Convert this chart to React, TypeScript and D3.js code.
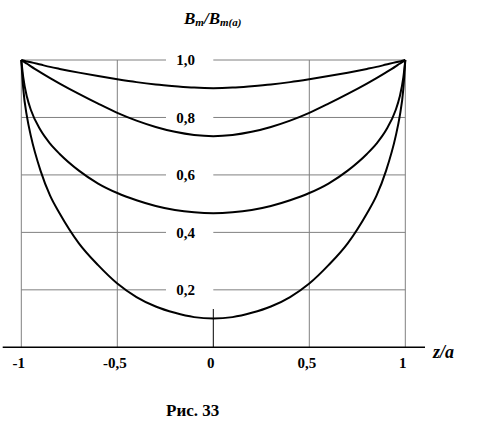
import React from "react";
import * as d3 from "d3";

const zs = [-1, -0.99, -0.97, -0.95, -0.9, -0.85, -0.8, -0.7, -0.6, -0.5, -0.4, -0.3, -0.2, -0.1, 0,
  0.1, 0.2, 0.3, 0.4, 0.5, 0.6, 0.7, 0.8, 0.85, 0.9, 0.95, 0.97, 0.99, 1];

const curve1 = [1.0, 0.998, 0.995, 0.992, 0.984, 0.976, 0.969, 0.956, 0.944, 0.933, 0.923, 0.915, 0.909, 0.904, 0.902,
  0.904, 0.909, 0.915, 0.923, 0.933, 0.944, 0.956, 0.969, 0.976, 0.984, 0.992, 0.995, 0.998, 1.0];
const curve2 = [1.0, 0.9955, 0.987, 0.978, 0.957, 0.937, 0.918, 0.882, 0.848, 0.816, 0.789, 0.767, 0.75, 0.739, 0.735,
  0.739, 0.75, 0.767, 0.789, 0.816, 0.848, 0.882, 0.918, 0.937, 0.957, 0.978, 0.987, 0.9955, 1.0];
const curve3 = [1.0, 0.94, 0.87, 0.826, 0.756, 0.709, 0.673, 0.615, 0.57, 0.537, 0.512, 0.492, 0.478, 0.47, 0.467,
  0.47, 0.478, 0.492, 0.512, 0.537, 0.57, 0.615, 0.673, 0.709, 0.756, 0.826, 0.87, 0.94, 1.0];
const curve4 = [1.0, 0.901, 0.801, 0.735, 0.615, 0.528, 0.466, 0.362, 0.286, 0.222, 0.175, 0.142, 0.12, 0.105, 0.1,
  0.105, 0.12, 0.142, 0.175, 0.222, 0.286, 0.362, 0.466, 0.528, 0.615, 0.735, 0.801, 0.901, 1.0];

const series = [curve1, curve2, curve3, curve4];

const xGrid = [-1, -0.5, 0.5, 1];
const xTicks = [-1, -0.5, 0, 0.5, 1];
const xTickLabels = ["-1", "-0,5", "0", "0,5", "1"];
const yTicks = [0.2, 0.4, 0.6, 0.8, 1.0];
const yTickLabels = ["0,2", "0,4", "0,6", "0,8", "1,0"];

const W = 484;
const H = 426;
const FONT = "'Liberation Serif', 'Times New Roman', serif";

export default function App() {
  const x = d3.scaleLinear().domain([-1, 1]).range([21.3, 405.3]);
  const y = d3.scaleLinear().domain([0, 1]).range([347.3, 60]);
  const line = d3
    .line<number>()
    .x((_, i) => x(zs[i]))
    .y((d) => y(d))
    .curve(d3.curveMonotoneX);

  const gapL = 166;
  const gapR = x(0);
  const grey = "#808080";

  return (
    <svg
      width={W}
      height={H}
      style={{ position: "absolute", left: 0, top: 0, background: "#fff" }}
      fontFamily={FONT}
    >
      <rect x={0} y={0} width={W} height={H} fill="#fff" />
      {xGrid.map((v) => (
        <line key={"vx" + v} x1={x(v)} x2={x(v)} y1={y(1)} y2={y(0)} stroke={grey} strokeWidth={1} />
      ))}
      {yTicks.map((v) => (
        <g key={"hy" + v}>
          <line x1={x(-1)} x2={gapL} y1={y(v)} y2={y(v)} stroke={grey} strokeWidth={1} />
          <line x1={gapR} x2={x(1)} y1={y(v)} y2={y(v)} stroke={grey} strokeWidth={1} />
        </g>
      ))}
      {yTicks.map((v, i) => (
        <text
          key={"yl" + v}
          x={185.5}
          y={y(v)}
          dy="0.35em"
          textAnchor="middle"
          fontWeight="bold"
          fontSize={15}
        >
          {yTickLabels[i]}
        </text>
      ))}
      <line x1={2.7} x2={425} y1={y(0)} y2={y(0)} stroke="#000" strokeWidth={1.5} />
      <line x1={x(0)} x2={x(0)} y1={309} y2={y(0)} stroke="#000" strokeWidth={1} />
      {xTicks.map((v, i) => (
        <text
          key={"xl" + v}
          x={x(v) - 2.5}
          y={367.5}
          textAnchor="middle"
          fontWeight="bold"
          fontSize={15}
        >
          {xTickLabels[i]}
        </text>
      ))}
      {series.map((s, i) => (
        <path key={"c" + i} d={line(s) || ""} fill="none" stroke="#000" strokeWidth={2} />
      ))}
      <text x={184} y={24} fontWeight="bold" fontStyle="italic" fontSize={17}>
        <tspan>B</tspan>
        <tspan fontSize={11} dy={2}>m</tspan>
        <tspan fontSize={17} dy={-2}>/B</tspan>
        <tspan fontSize={11} dy={2}>m(a)</tspan>
      </text>
      <text x={433} y={358} fontWeight="bold" fontStyle="italic" fontSize={18}>
        z/a
      </text>
      <text x={166} y={416} fontWeight="bold" fontSize={17}>
        Рис. 33
      </text>
    </svg>
  );
}
